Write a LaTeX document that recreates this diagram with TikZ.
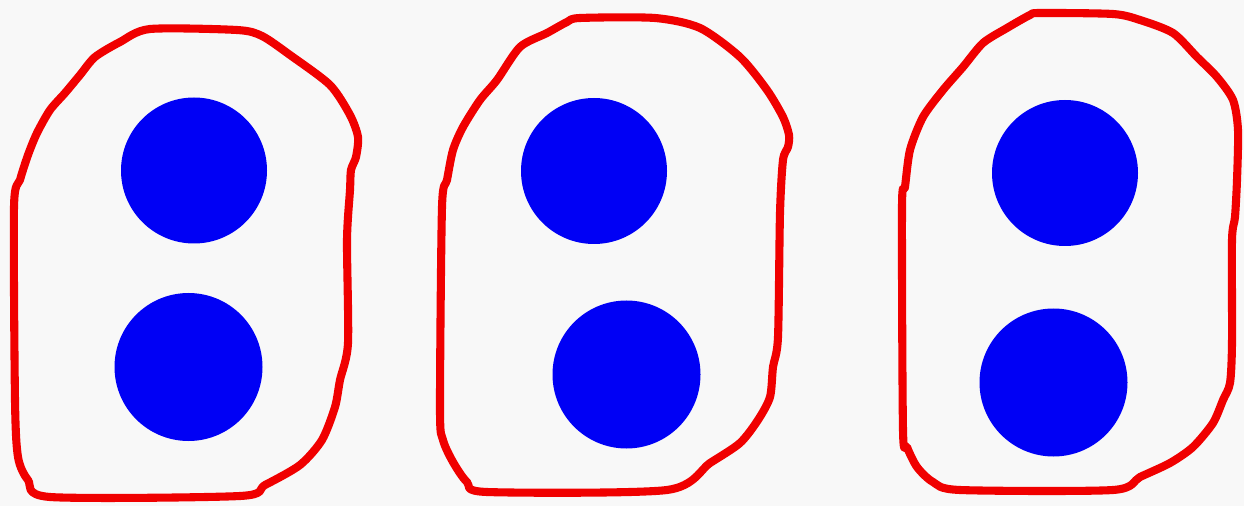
\documentclass[tikz,border=0pt]{standalone}
\definecolor{paper}{RGB}{248,248,248}
\definecolor{setred}{RGB}{240,0,0}
\definecolor{dotblue}{RGB}{0,0,245}
\begin{document}
\begin{tikzpicture}[x = 0.2mm, y = -0.2mm,
		setline/.style = {draw = setred, line width = 4.6pt, line join = round},
		dot/.style = {fill = dotblue}]
		\useasboundingbox (0,0) rectangle (1244,506);
		\fill [paper] (0,0) rectangle (1244,506);
		% first set
		\draw [setline] plot [smooth cycle, tension = 0.45] coordinates {(150,29) (237,30) (262,36) (290,55) (330,85) (350,115) (358,137) (356,157) (351,170) (350,190) (347,240) (348,343) (340,380) (335,407) (322,440) (300,465) (265,485) (240,496) (50,497) (28,480) (18,457) (15,400) (14,207) (20,180) (28,155) (37,133) (50,110) (65,93) (80,75) (95,57) (120,42)};
		\fill [dot] (194,170.5) circle (73);
		\fill [dot] (188.5,367) circle (74);
		% second set
		\draw [setline] plot [smooth cycle, tension = 0.45] coordinates {(580,18) (655,18) (700,28) (740,57) (767,90) (783,117) (789,135) (788,147) (783,160) (780,213) (778,337) (773,367) (770,397) (758,420) (740,443) (710,463) (667,490) (487,492) (467,482) (453,462) (443,440) (440,410) (442,207) (447,180) (453,150) (463,127) (480,100) (497,80) (520,47) (547,33) (567,22)};
		\fill [dot] (594,171) circle (73);
		\fill [dot] (626.5,374.5) circle (74);
		% third set
		\draw [setline] plot [smooth cycle, tension = 0.45] coordinates {(1040,13) (1113,14) (1140,20) (1173,33) (1197,57) (1217,77) (1233,100) (1238,130) (1237,180) (1235,217) (1232,240) (1232,343) (1230,383) (1223,400) (1213,423) (1193,447) (1170,463) (1140,477) (1113,490) (960,490) (933,482) (917,467) (907,447) (903,430) (902,207) (905,187) (910,150) (923,117) (943,90) (963,67) (983,43) (1007,28) (1030,15)};
		\fill [dot] (1065,173) circle (73);
		\fill [dot] (1053.5,382.5) circle (74);
	\end{tikzpicture}
\end{document}
